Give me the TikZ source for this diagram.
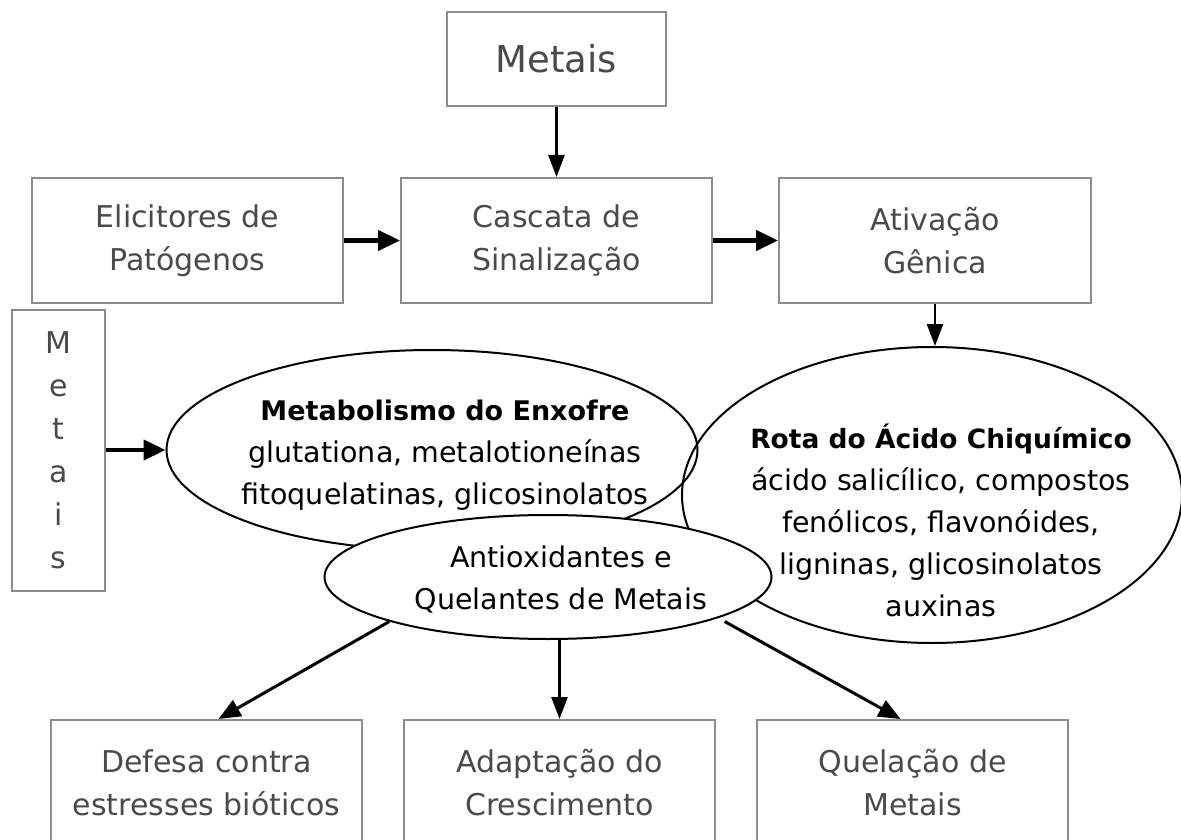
\documentclass[tikz,border=0pt]{standalone}
\usepackage{fontspec}
\setmainfont{DejaVu Sans}
\usetikzlibrary{arrows.meta,calc,shapes.geometric}
\definecolor{boxgray}{HTML}{8C8C8C}
\definecolor{boxtext}{HTML}{4A4A4A}
\begin{document}
\begin{tikzpicture}[x=1pt,y=-1pt,
  box/.style={draw=boxgray,line width=2pt,rectangle,text=boxtext,align=center,
    font=\fontsize{30}{43}\selectfont,inner sep=0pt},
  ell/.style={draw=black,line width=2pt,ellipse,inner sep=0pt},
  etext/.style={align=center,font=\fontsize{28.5}{42}\selectfont,text=black},
  thinarrow/.style={-{Triangle[length=22pt,width=16pt]},line width=2.5pt},
  thickarrow/.style={-{Triangle[length=22pt,width=20pt]},line width=4.5pt}]
\clip (0,0) rectangle (1181,840);
\fill[white] (0,0) rectangle (1181,840);

% top row
\node[box,minimum width=219pt,minimum height=94pt,font=\fontsize{37}{43}\selectfont] (metais) at (556.5,59) {Metais};
\node[box,minimum width=311pt,minimum height=125pt] (elic) at (187.5,240.5) {Elicitores de\\Patógenos};
\node[box,minimum width=311pt,minimum height=125pt] (casc) at (556.5,240.5) {Cascata de\\Sinalização};
\node[box,minimum width=312pt,minimum height=125pt] (ativ) at (935,240.5) {Ativação\\Gênica};

% vertical Metais
\node[box,minimum width=93pt,minimum height=281pt] (mv) at (58.5,450.5) {M\\e\\t\\a\\i\\s};

% ellipses
\node[ell,minimum width=531pt,minimum height=200pt] (enx) at (432,450) {};
\node[etext] (enxt) at (445,455) {\textbf{\fontsize{27}{42}\selectfont Metabolismo do Enxofre}\\glutationa, metalotioneínas\\fitoquelatinas, glicosinolatos};
\node[ell,minimum width=500pt,minimum height=296pt] (chiq) at (932,495) {};
\node[etext] (chiqt) at (941,520) {\textbf{\fontsize{26.5}{42}\selectfont Rota do Ácido Chiquímico}\\ácido salicílico, compostos\\fenólicos, flavonóides,\\ligninas, glicosinolatos\\auxinas};
\node[ell,fill=white,minimum width=447pt,minimum height=124pt] (anti) at (548,577) {};
\node[etext] (antit) at (561,580) {Antioxidantes e\\Quelantes de Metais};

% bottom row
\node[box,minimum width=311pt,minimum height=126pt] (def) at (206.5,783) {Defesa contra\\estresses bióticos};
\node[box,minimum width=311pt,minimum height=126pt] (adap) at (559.5,783) {Adaptação do\\Crescimento};
\node[box,minimum width=311pt,minimum height=126pt] (quel) at (912.5,783) {Quelação de\\Metais};

% connectors
\draw[thinarrow] (metais.south) -- (casc.north);
\draw[thickarrow] (elic.east) -- (casc.west);
\draw[thickarrow] (casc.east) -- (ativ.west);
\draw[thinarrow] (ativ.south) -- (ativ.south |- chiq.north);
\draw[thickarrow] (mv.east |- enx.west) -- (enx.west);
\draw[line width=3pt,-{Triangle[length=22pt,width=18pt]}] (anti.south west) -- ($(def.north)+(12,0)$);
\draw[thinarrow] (anti.south -| adap.north) -- (adap.north);
\draw[line width=3pt,-{Triangle[length=22pt,width=18pt]}] ($(anti.south east)+(18,0)$) -- ($(quel.north)+(-12,0)$);
\end{tikzpicture}
\end{document}
